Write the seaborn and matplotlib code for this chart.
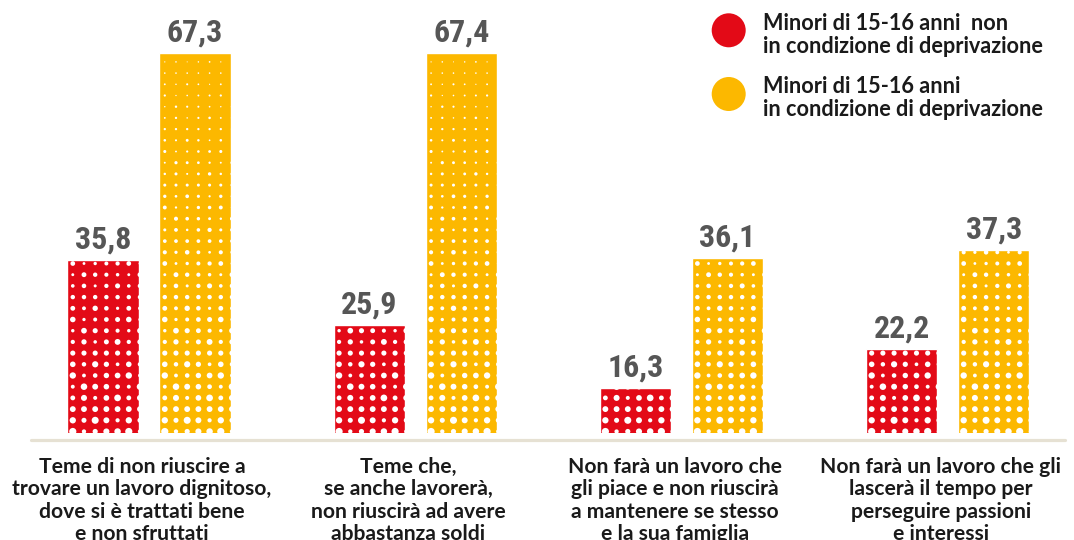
import os
import numpy as np
import pandas as pd
import matplotlib
matplotlib.use("Agg")
import matplotlib.pyplot as plt
from matplotlib import font_manager as fm
from matplotlib.patches import Circle
from matplotlib.transforms import IdentityTransform, ScaledTranslation
import seaborn as sns

# ---- data -------------------------------------------------------------
categories = [
    "Teme di non riuscire a\ntrovare un lavoro dignitoso,\ndove si è trattati bene\ne non sfruttati",
    "Teme che,\nse anche lavorerà,\nnon riuscirà ad avere\nabbastanza soldi",
    "Non farà un lavoro che\ngli piace e non riuscirà\na mantenere se stesso\ne la sua famiglia",
    "Non farà un lavoro che gli\nlascerà il tempo per\nperseguire passioni\ne interessi",
]
series_names = [
    "Minori di 15-16 anni  non\nin condizione di deprivazione",
    "Minori di 15-16 anni\nin condizione di deprivazione",
]
non_deprived = [35.8, 25.9, 16.3, 22.2]
deprived = [67.3, 67.4, 36.1, 37.3]

RED = "#E30A17"
YELLOW = "#FCB800"
palette = [RED, YELLOW]

df = pd.DataFrame({
    "categoria": categories * 2,
    "gruppo": [series_names[0]] * 4 + [series_names[1]] * 4,
    "valore": non_deprived + deprived,
})

# ---- style ------------------------------------------------------------
sns.set_style("white")
plt.rcParams["font.family"] = ["Lato", "DejaVu Sans"]
plt.rcParams["font.weight"] = "bold"


def condensed_bold():
    for entry in fm.fontManager.ttflist:
        if entry.name in ("Roboto Condensed", "Liberation Sans Narrow") and \
                entry.weight in ("bold", 700) and entry.style == "normal":
            return fm.FontProperties(fname=entry.fname)
    for entry in fm.fontManager.ttflist:
        if os.path.basename(entry.fname).startswith("DejaVuSansCondensed-Bold."):
            return fm.FontProperties(fname=entry.fname)
    return fm.FontProperties(family="Roboto", weight="bold")


value_font = condensed_bold()

W, H, DPI = 1074, 540, 100
fig = plt.figure(figsize=(W / DPI, H / DPI), dpi=DPI)
fig.patch.set_facecolor("white")

base_px = 432.5          # bar foot, pixels from top
px_per_unit = 6.557
y0 = 9.47                # value sitting on the bar foot
group_px = 266.3
first_center_px = 149.0

ax = fig.add_axes([0, (H - base_px) / H, 1, base_px / H])

sns.barplot(data=df, x="categoria", y="valore", hue="gruppo",
            palette=palette, width=0.691, gap=0.228, saturation=1,
            legend=False, ax=ax)

ax.set_xlim(-first_center_px / group_px, (W - first_center_px) / group_px)
ax.set_ylim(y0, y0 + base_px / px_per_unit)
for s in ax.spines.values():
    s.set_visible(False)
ax.set_xlabel("")
ax.set_ylabel("")
ax.set_yticks([])
ax.tick_params(axis="x", length=0, pad=17.6, labelsize=15.2, labelcolor="#1a1a1a")
for lbl in ax.get_xticklabels():
    lbl.set_fontweight("bold")
    lbl.set_linespacing(1.156)
    lbl.set_transform(lbl.get_transform() +
                      ScaledTranslation(-7 / DPI, 0, fig.dpi_scale_trans))

# baseline rule
ax.axhline(y0 - 7 / px_per_unit, xmin=31 / W, xmax=1065 / W,
           color="#E6E1D3", lw=2.3, clip_on=False, zorder=1)

# halftone dots inside each bar + value labels
to_data = ax.transData.inverted()
col_step, row_step = 11.2, 11.2
variation = [1.0, 0.72, 0.9, 0.6, 0.85]
for container, values in zip(ax.containers, [non_deprived, deprived]):
    for bar, v in zip(container.patches, values):
        x_left = bar.get_x()
        xl_px = ax.transData.transform((x_left, y0))[0]
        top_px = H - ax.transData.transform((x_left, v))[1]
        xs, ys, sizes = [], [], []
        m = 0
        while True:
            yy = 431.5 - row_step * m
            if yy < top_px - 2:
                break
            for k in range(7):
                xx = xl_px + 5.3 + col_step * k
                t = np.clip((yy - 53) / (432 - 53), 0, 1)
                d = (1.6 + 5.6 * t) * variation[(3 * k + 2 * m + k * m) % 5]
                dx, dy = to_data.transform((xx, H - yy))
                xs.append(dx)
                ys.append(dy)
                sizes.append((d * 72 / DPI) ** 2)
            m += 1
        sc = ax.scatter(xs, ys, s=sizes, color="white", linewidths=0, zorder=3)
        sc.set_clip_path(bar)

        ax.annotate(f"{v:.1f}".replace(".", ","),
                    xy=(x_left + bar.get_width() / 2, v),
                    xytext=(0, 8.3), textcoords="offset points",
                    ha="center", va="baseline", fontproperties=value_font,
                    fontsize=23, color="#565656")

# legend: marker circles and two-line labels (baseline of the last line)
for name, color, cy, last_base in zip(series_names, palette,
                                      [30.3, 94.0], [52.7, 116.0]):
    fig.add_artist(Circle((728.7, H - cy), 17, transform=IdentityTransform(),
                          facecolor=color, edgecolor="none"))
    fig.text(763, H - last_base, name, transform=IdentityTransform(),
             ha="left", va="baseline", fontsize=15.6, fontweight="bold",
             color="#1a1a1a", linespacing=1.11)

fig.savefig("out.png", dpi=DPI, facecolor="white")
